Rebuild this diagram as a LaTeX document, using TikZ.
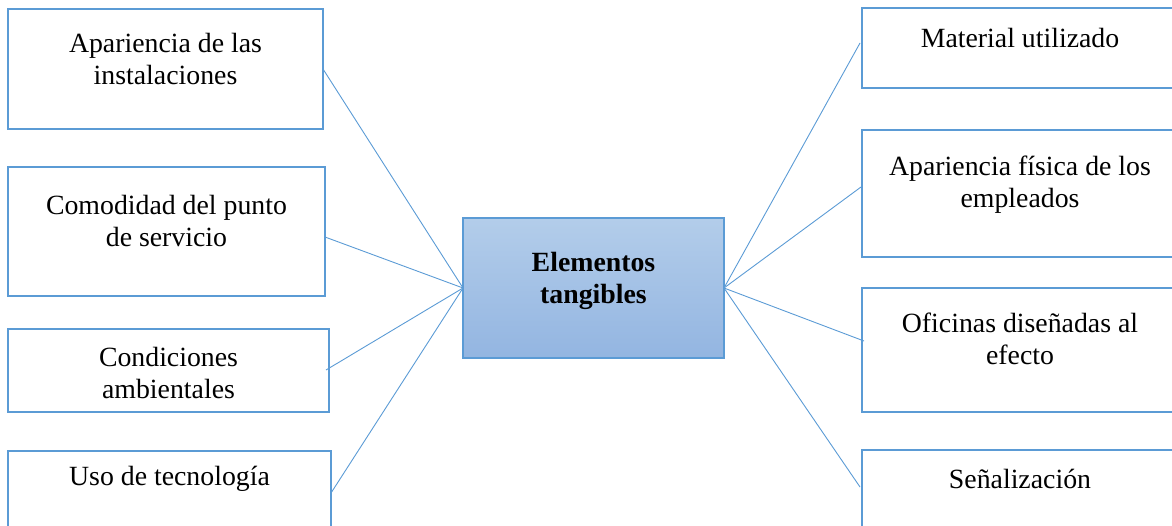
\documentclass[tikz,border=0pt]{standalone}
\usepackage{fontspec}
\setmainfont{Liberation Serif}
\usetikzlibrary{calc}
\definecolor{accent}{HTML}{5B9BD5}
\definecolor{fillTop}{HTML}{B3CDEA}
\definecolor{fillBot}{HTML}{93B5E1}
\begin{document}
\begin{tikzpicture}[x=1pt,y=-1pt,
  box/.style={draw=accent, line width=2.7pt, inner sep=0pt, outer sep=0pt, anchor=north west},
  txt/.style={inner sep=0pt, anchor=north, align=center, font=\fontsize{27.8}{32}\selectfont},
  hub/.style={draw=accent, line width=1.1pt, top color=fillTop, bottom color=fillBot,
    inner sep=0pt, outer sep=0pt, anchor=north west, minimum width=261pt, minimum height=140pt},
  conn/.style={draw=accent, line width=0.9pt}]
\useasboundingbox (0,0) rectangle (1172,525);
\clip (0,0) rectangle (1172,525);

% central node
\node[hub] (c) at (463,218) {};
\node[txt, font=\fontsize{27.8}{32}\selectfont\bfseries] (ct) at (593.5,252) {Elementos\\tangibles};

% left column
\node[box, minimum width=315pt, minimum height=120pt] (l1) at (8,9) {};
\node[box, minimum width=317pt, minimum height=129pt] (l2) at (8,167) {};
\node[box, minimum width=321pt, minimum height=83pt]  (l3) at (8,329) {};
\node[box, minimum width=323pt, minimum height=110pt] (l4) at (8,451) {};
\node[txt] (l1t) at (165.5,33) {Apariencia de las\\instalaciones};
\node[txt] (l2t) at (166.5,195) {Comodidad del punto\\de servicio};
\node[txt] (l3t) at (168.5,347) {Condiciones\\ambientales};
\node[txt] (l4t) at (169.5,466) {Uso de tecnología};

% right column
\node[box, minimum width=316pt, minimum height=80pt]  (r1) at (862,8) {};
\node[box, minimum width=316pt, minimum height=127pt] (r2) at (862,130) {};
\node[box, minimum width=316pt, minimum height=124pt] (r3) at (862,288) {};
\node[box, minimum width=316pt, minimum height=110pt] (r4) at (862,450) {};
\node[txt] (r1t) at (1020,28) {Material utilizado};
\node[txt] (r2t) at (1020,156) {Apariencia física de los\\empleados};
\node[txt] (r3t) at (1020,313) {Oficinas diseñadas al\\efecto};
\node[txt] (r4t) at (1020,469) {Señalización};

% connector end points on the box edges
\coordinate (l1e) at ($(l1.north east)+(0,60)$);
\coordinate (l2e) at ($(l2.north east)+(0,70)$);
\coordinate (l3e) at ($(l3.north east)+(-3,41)$);
\coordinate (l4e) at ($(l4.north east)+(0,42)$);
\coordinate (r1e) at ($(r1.north west)+(-2,35)$);
\coordinate (r2e) at ($(r2.north west)+(-1,57)$);
\coordinate (r3e) at ($(r3.north west)+(2,53)$);
\coordinate (r4e) at ($(r4.north west)+(-2,37)$);

% connectors
\foreach \e in {l1e,l2e,l3e,l4e} \draw[conn] (c.west) -- (\e);
\foreach \e in {r1e,r2e,r3e,r4e} \draw[conn] (c.east) -- (\e);
\end{tikzpicture}
\end{document}
